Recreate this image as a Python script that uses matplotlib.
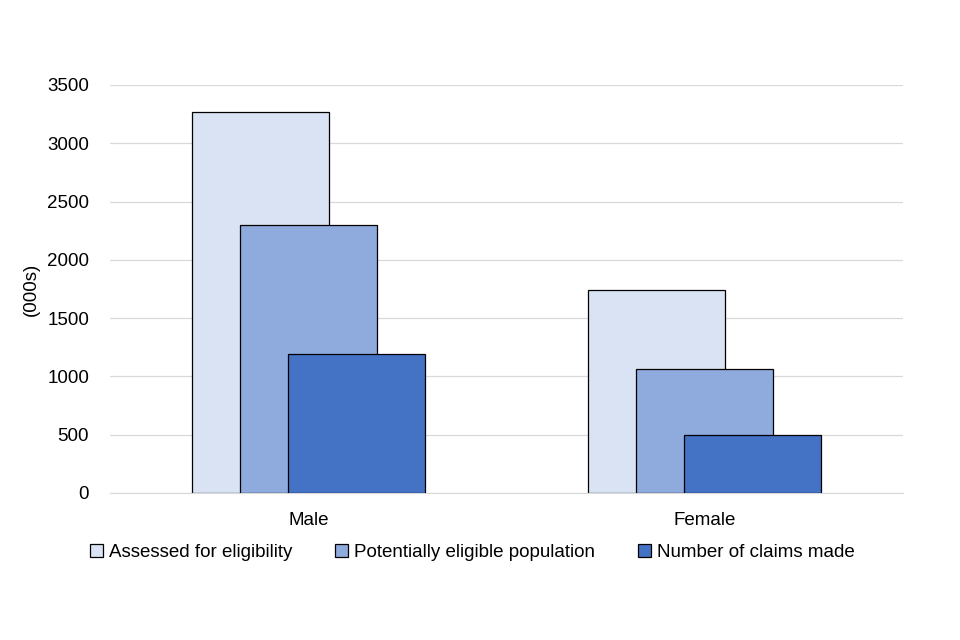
import matplotlib
matplotlib.use("Agg")
import matplotlib.pyplot as plt
import numpy as np

# data (thousands)
categories = ["Male", "Female"]
series_names = ["Assessed for eligibility", "Potentially eligible population", "Number of claims made"]
assessed = [3265, 1745]
eligible = [2295, 1065]
claims = [1190, 495]

colors = ["#DAE3F3", "#8FAADC", "#4472C4"]

plt.rcParams["font.family"] = ["Liberation Sans", "DejaVu Sans"]

fig = plt.figure(figsize=(9.6, 6.4), dpi=100)
ax = fig.add_axes([0.1146, 0.2297, 0.8260, 0.6375])

x = np.arange(len(categories))
width = 0.3455
step = 0.121
for i, (vals, name) in enumerate(zip([assessed, eligible, claims], series_names)):
    ax.bar(x + (i - 1) * step, vals, width=width, color=colors[i],
           edgecolor="black", linewidth=0.9, label=name, zorder=2 + i)

ax.set_xlim(-0.5, 1.5)
ax.set_ylim(0, 3500)
ax.set_yticks(np.arange(0, 3501, 500))
ax.set_xticks(x)
ax.set_xticklabels(categories)
ax.yaxis.grid(True, color="#D9D9D9", linewidth=0.9, zorder=0)
ax.set_axisbelow(True)
for s in ["top", "right", "left"]:
    ax.spines[s].set_visible(False)
ax.spines["bottom"].set_color("#D9D9D9")
ax.tick_params(axis="both", length=0, labelsize=13.5, colors="black")
ax.tick_params(axis="y", pad=15)
ax.tick_params(axis="x", pad=14)
ax.set_ylabel("(000s)", fontsize=13.5, labelpad=5)

ax.legend(loc="upper center", bbox_to_anchor=(0.457, -0.083), ncol=3, frameon=False,
          fontsize=13.5, handlelength=0.7, handleheight=0.7, handletextpad=0.3,
          columnspacing=2.3)

fig.savefig("out.png", dpi=100)
